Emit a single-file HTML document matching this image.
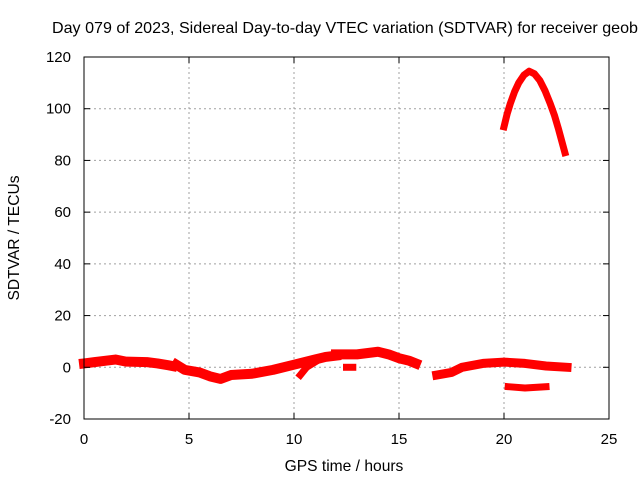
<!DOCTYPE html>
<html><head><meta charset="utf-8"><style>
body{margin:0;background:#fff;}
svg{display:block;font-family:"Liberation Sans",sans-serif;}
</style></head><body>
<svg id="c" width="640" height="480">
<text x="52" y="33" font-size="15.6" textLength="586" lengthAdjust="spacingAndGlyphs">Day 079 of 2023, Sidereal Day-to-day VTEC variation (SDTVAR) for receiver geob</text>
<text x="344" y="471" text-anchor="middle" font-size="15.6">GPS time / hours</text>
<text transform="translate(19,238) rotate(-90)" text-anchor="middle" font-size="15.6">SDTVAR / TECUs</text>
<g id="grid"></g><g id="series"></g><g id="axes"></g>
</svg>
<script>
const xTicks=[0,5,10,15,20,25];
const yTicks=[-20,0,20,40,60,80,100,120];
const segA=[[0,1.5],[0.5,2],[1,2.5],[1.5,3],[2,2.2],[3,2],[3.5,1.5],[4,0.8],[4.2,0.5]];
const segB=[[4.4,1],[4.8,-1],[5.5,-2],[6,-3.5],[6.5,-4.5],[7,-3],[8,-2.5],[9,-1],[10,1],[11,3],[11.5,4],[12,4.5]];
const segC=[[10.3,-3],[10.6,0],[11,2]];
const segD=[[12,5],[13,5],[14,6],[14.5,5],[15,3.5],[15.5,2.5],[15.8,1.5]];
const segE=[[12.5,0],[12.8,0]];
const segF=[[16.8,-3],[17.5,-2],[18,0],[19,1.5],[20,2],[21,1.5],[22,0.5],[23,0]];
const segG=[[20.2,-7.5],[21,-8],[22,-7.5]];
const segH=[[20,93],[20.15,98],[20.3,102],[20.5,106.5],[20.7,110],[20.95,113],[21.2,114.5],[21.45,113.5],[21.7,111],[21.95,107],[22.2,102],[22.4,97.5],[22.6,92],[22.75,87.5],[22.9,83]];
const X0=84,X1=609,Y0=419,Y1=57;
const xs=v=>X0+(v-0)/25*(X1-X0);
const ys=v=>Y0-(v+20)/140*(Y0-Y1);
const NS='http://www.w3.org/2000/svg';
function mk(t,a,p){const e=document.createElementNS(NS,t);for(const k in a)e.setAttribute(k,a[k]);p.appendChild(e);return e;}
const g=document.getElementById('grid'),ax=document.getElementById('axes'),s=document.getElementById('series');
xTicks.forEach(t=>{const x=xs(t);
 if(t>0&&t<25){const l=mk('line',{x1:x,x2:x,y1:Y1,y2:Y0,stroke:'#a0a0a0','stroke-dasharray':'2,3'},g);
 
 }
 mk('line',{x1:x,x2:x,y1:Y0,y2:Y0-6,stroke:'#000'},ax);mk('line',{x1:x,x2:x,y1:Y1,y2:Y1+6,stroke:'#000'},ax);
 const tx=mk('text',{x:x,y:Y0+25,'text-anchor':'middle','font-size':15},ax);tx.textContent=t;
 
 });
yTicks.forEach(t=>{const y=ys(t);
 if(t>-20&&t<120){const l=mk('line',{x1:X0,x2:X1,y1:y,y2:y,stroke:'#a0a0a0','stroke-dasharray':'2,3'},g);
 
 }
 mk('line',{x1:X0,x2:X0+6,y1:y,y2:y,stroke:'#000'},ax);mk('line',{x1:X1,x2:X1-6,y1:y,y2:y,stroke:'#000'},ax);
 const tx=mk('text',{x:X0-13,y:y+5,'text-anchor':'end','font-size':15},ax);tx.textContent=t;
 
 });
const fr=mk('rect',{x:X0,y:Y1,width:X1-X0,height:Y0-Y1,fill:'none',stroke:'#000'},ax);


[[segA,10],[segB,10],[segC,7],[segD,10],[segE,7],[segF,9],[segG,7],[segH,7]].forEach(([d,w])=>{
 const p=mk('polyline',{points:d.map(q=>xs(q[0])+','+ys(q[1])).join(' '),fill:'none',stroke:'#ff0000','stroke-width':w,'stroke-linejoin':'round','stroke-linecap':'square'},s);
 
 });
</script>
</body></html>
